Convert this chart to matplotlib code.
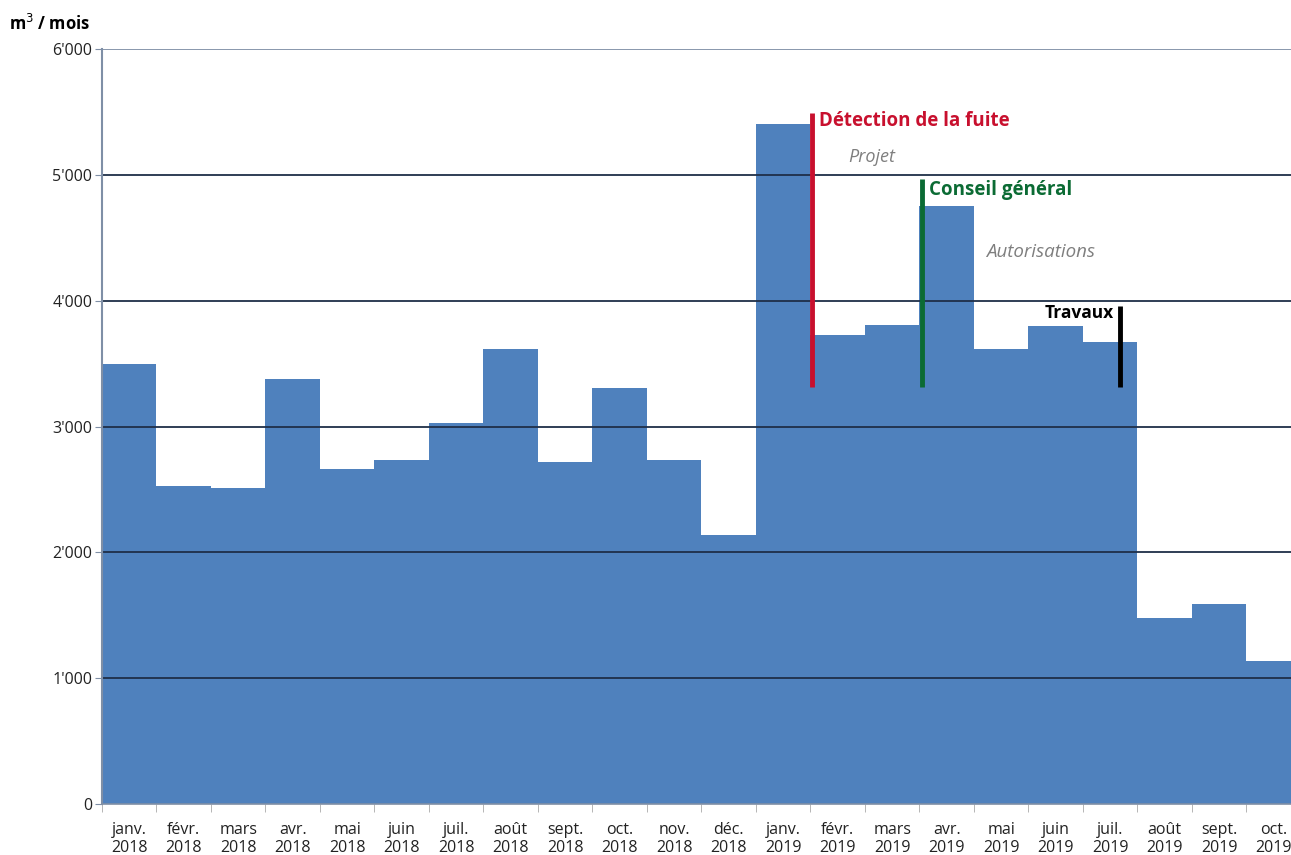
import matplotlib
matplotlib.use("Agg")
import matplotlib.pyplot as plt
import numpy as np
from matplotlib.ticker import FuncFormatter

# Monthly water consumption, m3 / month
months = ['janv.', 'févr.', 'mars', 'avr.', 'mai', 'juin', 'juil.', 'août',
          'sept.', 'oct.', 'nov.', 'déc.',
          'janv.', 'févr.', 'mars', 'avr.', 'mai', 'juin', 'juil.', 'août',
          'sept.', 'oct.']
years = ['2018'] * 12 + ['2019'] * 10
volumes = [3500, 2530, 2515, 3380, 2665, 2735, 3030, 3615, 2720, 3310, 2730, 2135,
           5400, 3725, 3810, 4755, 3615, 3795, 3670, 1480, 1590, 1140]

# Event markers: (position on month axis, bottom, top)
events = ['Détection de la fuite', 'Conseil général', 'Travaux']
event_pos = [13.03, 15.05, 18.68]
event_bottom = [3315, 3315, 3315]
event_top = [5495, 4970, 3960]
event_colors = ['#c8102e', '#0b6b34', '#000000']

BAR_COLOR = '#4f81bd'
GRID_COLOR = '#1f2f48'
SPINE_COLOR = '#7f8fa6'

plt.rcParams['font.family'] = ['Open Sans', 'DejaVu Sans']

fig = plt.figure(figsize=(12.91, 8.55), dpi=100)
# last bar runs past the right edge of the picture, as in the original
ax = fig.add_axes([0.079, 0.0596, 0.9287, 0.8831])

x = np.arange(len(volumes)) + 0.5
ax.bar(x, volumes, width=1.0, color=BAR_COLOR, zorder=2)

ax.set_xlim(0, len(volumes))
ax.set_ylim(0, 6000)

# horizontal gridlines on top of the bars
for yv in range(1000, 6001, 1000):
    c = SPINE_COLOR if yv == 6000 else GRID_COLOR
    ax.axhline(yv, color=c, lw=1.3, zorder=3)

ax.set_yticks(range(0, 6001, 1000))
ax.yaxis.set_major_formatter(FuncFormatter(
    lambda v, p: '0' if v == 0 else f"{int(v)//1000}'{int(v)%1000:03d}"))
ax.tick_params(axis='y', length=5, color=SPINE_COLOR, labelsize=11.5,
               labelcolor='#222222', pad=2)

ax.set_xticks(x)
ax.set_xticklabels([f'{m}\n{y}' for m, y in zip(months, years)],
                   fontsize=11.5, color='#222222', linespacing=1.2)
ax.tick_params(axis='x', which='major', length=0, pad=13)
ax.set_xticks(np.arange(0, len(volumes) + 1), minor=True)
ax.tick_params(axis='x', which='minor', length=6, color='#aaaaaa')

for s in ['top', 'right']:
    ax.spines[s].set_visible(False)
ax.spines['left'].set_color(SPINE_COLOR)
ax.spines['left'].set_linewidth(1.5)
ax.spines['bottom'].set_color(SPINE_COLOR)
ax.spines['bottom'].set_linewidth(1.2)
ax.spines['left'].set_zorder(4)

# event markers
for pos, b, t, c in zip(event_pos, event_bottom, event_top, event_colors):
    ax.vlines(pos, b, t, color=c, lw=3.5, zorder=5)

ax.text(event_pos[0] + 0.12, 5430, events[0], color=event_colors[0],
        fontsize=13.5, fontweight='bold', va='center', ha='left', zorder=6)
ax.text(13.69, 5143, 'Projet', color='#7f7f7f', fontsize=13,
        style='italic', va='center', ha='left', zorder=6)
ax.text(event_pos[1] + 0.12, 4881, events[1], color=event_colors[1],
        fontsize=13.5, fontweight='bold', va='center', ha='left', zorder=6)
ax.text(16.22, 4388, 'Autorisations', color='#7f7f7f', fontsize=13.5,
        style='italic', va='center', ha='left', zorder=6)
ax.text(event_pos[2] - 0.12, 3903, events[2], color=event_colors[2],
        fontsize=12.5, fontweight='bold', va='center', ha='right', zorder=6)

fig.text(0.007, 0.972, 'm$^3$ / mois', fontsize=12, fontweight='bold',
         va='center', ha='left')

fig.savefig('out.png', dpi=100)
